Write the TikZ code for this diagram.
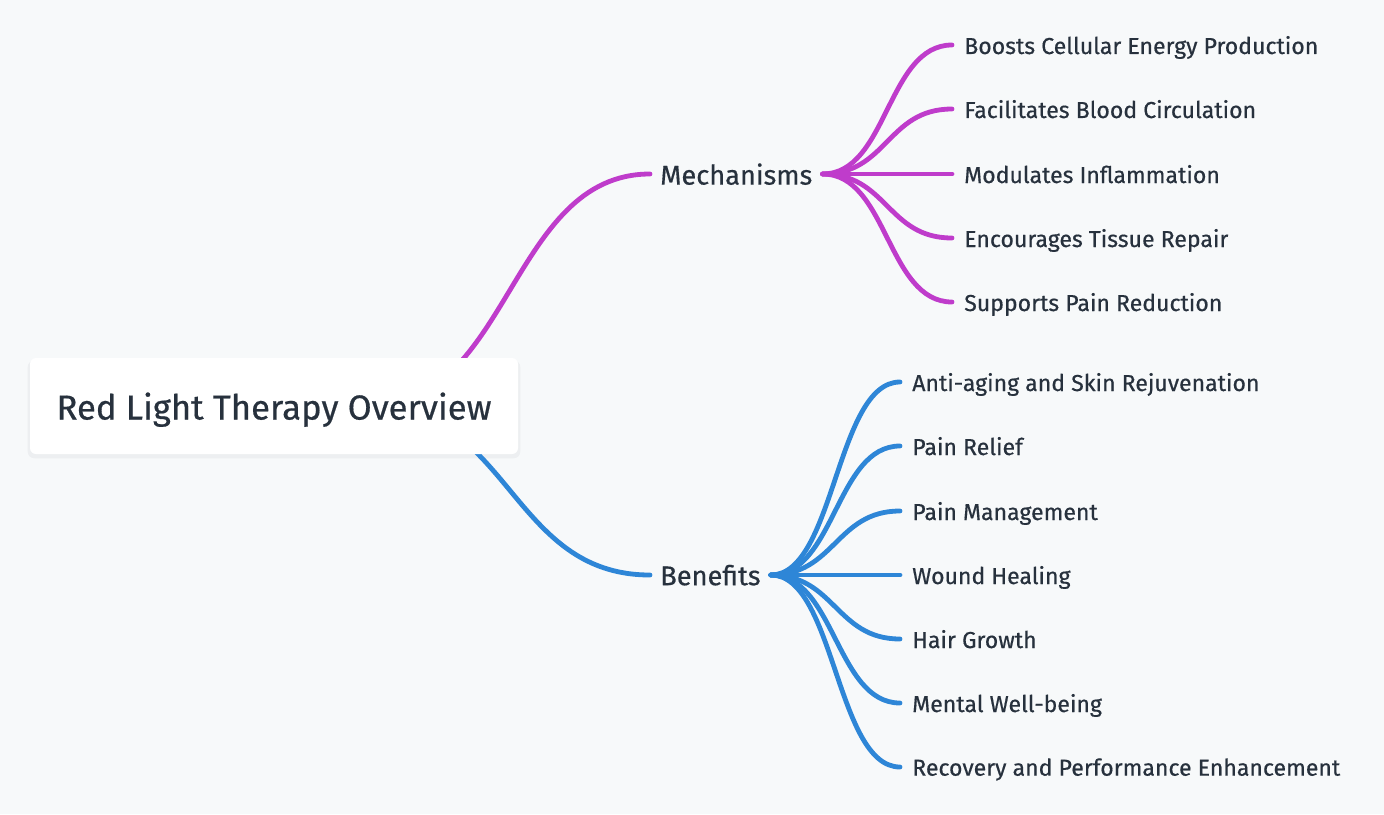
\documentclass[tikz,border=0pt]{standalone}
\usepackage{fontspec}
\setmainfont{Fira Sans}[FakeBold=0.5]
\usetikzlibrary{backgrounds}
\definecolor{bg}{HTML}{F7F9FA}
\definecolor{purp}{HTML}{BF3CCB}
\definecolor{blu}{HTML}{2E86D7}
\definecolor{txt}{HTML}{27313D}
\definecolor{shadowc}{HTML}{EDEFF1}
\begin{document}
\begin{tikzpicture}[x=0.75pt,y=-0.75pt,
  conn/.style={line width=3.6pt, line cap=round},
  rootbox/.style={fill=white, rounded corners=4.5pt, minimum width=366pt, minimum height=72pt, inner sep=0pt, text depth=0pt, text=txt, font=\fontsize{26}{30}\selectfont},
  branch/.style={anchor=west, inner ysep=0pt, inner xsep=7.5pt, text depth=0pt, text=txt, font=\fontsize{20.4}{24}\selectfont},
  leaf/.style={anchor=west, inner ysep=0pt, inner xsep=9pt, text depth=0pt, text=txt, font=\fontsize{17.3}{21}\selectfont},
]
\useasboundingbox (0,0) rectangle (1384,814);
\node[rootbox] (root) at (274,406) {Red Light Therapy Overview};
\coordinate (rs) at (370,406);

\node[branch] (mech) at (650,174) {Mechanisms};
\node[branch] (ben) at (650,575) {Benefits};

\node[leaf] (m1) at (952,45) {Boosts Cellular Energy Production};
\node[leaf] (m2) at (952,109) {Facilitates Blood Circulation};
\node[leaf] (m3) at (952,174) {Modulates Inflammation};
\node[leaf] (m4) at (952,238) {Encourages Tissue Repair};
\node[leaf] (m5) at (952,302) {Supports Pain Reduction};

\node[leaf] (b1) at (900,382) {Anti-aging and Skin Rejuvenation};
\node[leaf] (b2) at (900,446) {Pain Relief};
\node[leaf] (b3) at (900,511) {Pain Management};
\node[leaf] (b4) at (900,575) {Wound Healing};
\node[leaf] (b5) at (900,639) {Hair Growth};
\node[leaf] (b6) at (900,703) {Mental Well-being};
\node[leaf] (b7) at (900,767) {Recovery and Performance Enhancement};

\begin{scope}[on background layer]
  \fill[bg] (0,0) rectangle (1384,814);
  \fill[shadowc, rounded corners=5pt] ([xshift=-1.5pt,yshift=-2pt]root.north west) rectangle ([xshift=1.5pt,yshift=-3pt]root.south east);
  \draw[conn, purp] (rs) .. controls +(140,0) and +(-140,0) .. (mech.west);
  \draw[conn, blu] (rs) .. controls +(140,0) and +(-140,0) .. (ben.west);
  \foreach \n in {m1,m2,m3,m4,m5}
    \draw[conn, purp] (mech.east) .. controls +(65,0) and +(-65,0) .. (\n.west);
  \foreach \n in {b1,b2,b3,b4,b5,b6,b7}
    \draw[conn, blu] (ben.east) .. controls +(64,0) and +(-64,0) .. (\n.west);
\end{scope}
\end{tikzpicture}
\end{document}
